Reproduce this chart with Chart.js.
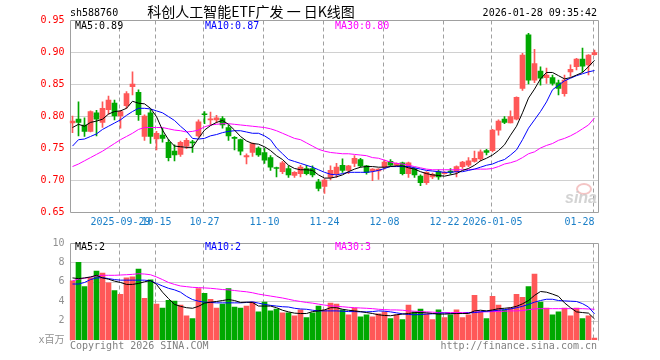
<!DOCTYPE html>
<html>
<head>
<meta charset="utf-8">
<script src="https://cdn.jsdelivr.net/npm/chart.js@4.4.1/dist/chart.umd.min.js"></script>
<style>
  html, body { margin: 0; padding: 0; background: #fff; }
  #wrap { position: relative; width: 660px; height: 360px; overflow: hidden; }
  #kline { position: absolute; left: 0; top: 0; }
  #vol { position: absolute; left: 0; top: 232px; }
</style>
</head>
<body>
<div id="wrap">
  <canvas id="kline" width="660" height="232"></canvas>
  <canvas id="vol" width="660" height="128"></canvas>
</div>
<script>
// trading days shown on the chart
const categories = [
  '2025-09-17','2025-09-18','2025-09-19','2025-09-22','2025-09-23','2025-09-24','2025-09-25','2025-09-26','2025-09-29','2025-09-30',
  '2025-10-09','2025-10-10','2025-10-13','2025-10-14','2025-10-15','2025-10-16','2025-10-17','2025-10-20','2025-10-21','2025-10-22',
  '2025-10-23','2025-10-24','2025-10-27','2025-10-28','2025-10-29','2025-10-30','2025-10-31','2025-11-03','2025-11-04','2025-11-05',
  '2025-11-06','2025-11-07','2025-11-10','2025-11-11','2025-11-12','2025-11-13','2025-11-14','2025-11-17','2025-11-18','2025-11-19',
  '2025-11-20','2025-11-21','2025-11-24','2025-11-25','2025-11-26','2025-11-27','2025-11-28','2025-12-01','2025-12-02','2025-12-03',
  '2025-12-04','2025-12-05','2025-12-08','2025-12-09','2025-12-10','2025-12-11','2025-12-12','2025-12-15','2025-12-16','2025-12-17',
  '2025-12-18','2025-12-19','2025-12-22','2025-12-23','2025-12-24','2025-12-25','2025-12-26','2025-12-29','2025-12-30','2025-12-31',
  '2026-01-05','2026-01-06','2026-01-07','2026-01-08','2026-01-09','2026-01-12','2026-01-13','2026-01-14','2026-01-15','2026-01-16',
  '2026-01-19','2026-01-20','2026-01-21','2026-01-22','2026-01-23','2026-01-26','2026-01-27','2026-01-28'
];
const tickDates  = ['2025-09-29','2025-10-15','2025-10-27','2025-11-10','2025-11-24','2025-12-08','2025-12-22','2026-01-05','2026-01-28'];
const tickLabels = ['2025-09-29','10-15','10-27','11-10','11-24','12-08','12-22','2026-01-05','01-28'];

const open = [
  0.789,0.795,0.786,0.776,0.805,0.790,0.810,0.820,0.800,0.816,
  0.846,0.837,0.768,0.805,0.764,0.770,0.759,0.745,0.740,0.753,
  0.759,0.769,0.803,0.794,0.794,0.796,0.782,0.766,0.763,0.736,
  0.743,0.750,0.743,0.735,0.719,0.713,0.718,0.707,0.710,0.718,
  0.718,0.697,0.690,0.704,0.710,0.723,0.715,0.726,0.732,0.722,
  0.714,0.714,0.720,0.729,0.723,0.727,0.710,0.718,0.706,0.696,
  0.705,0.713,0.710,0.714,0.713,0.721,0.723,0.729,0.733,0.746,
  0.746,0.778,0.795,0.789,0.795,0.843,0.927,0.856,0.870,0.860,
  0.860,0.852,0.835,0.869,0.877,0.889,0.880,0.896
];
const high = [
  0.800,0.822,0.797,0.808,0.809,0.822,0.831,0.825,0.809,0.838,
  0.869,0.841,0.802,0.810,0.776,0.781,0.763,0.755,0.761,0.765,
  0.762,0.794,0.807,0.806,0.801,0.799,0.786,0.768,0.764,0.741,
  0.758,0.752,0.750,0.738,0.720,0.729,0.722,0.713,0.723,0.723,
  0.722,0.701,0.702,0.722,0.726,0.733,0.723,0.738,0.734,0.723,
  0.718,0.718,0.731,0.732,0.727,0.728,0.728,0.719,0.708,0.713,
  0.711,0.716,0.713,0.718,0.722,0.729,0.735,0.745,0.747,0.748,
  0.779,0.794,0.799,0.808,0.830,0.898,0.929,0.904,0.877,0.875,
  0.864,0.856,0.864,0.880,0.890,0.906,0.896,0.903
];
const low = [
  0.774,0.769,0.768,0.775,0.769,0.782,0.803,0.794,0.781,0.812,
  0.833,0.793,0.762,0.757,0.747,0.759,0.730,0.730,0.737,0.749,
  0.743,0.767,0.788,0.786,0.789,0.781,0.762,0.747,0.739,0.725,
  0.737,0.737,0.726,0.715,0.705,0.710,0.704,0.704,0.705,0.708,
  0.705,0.683,0.679,0.700,0.704,0.712,0.710,0.721,0.720,0.709,
  0.699,0.701,0.717,0.722,0.722,0.708,0.704,0.704,0.691,0.693,
  0.702,0.701,0.709,0.709,0.705,0.718,0.721,0.728,0.730,0.739,
  0.744,0.770,0.788,0.789,0.794,0.840,0.850,0.852,0.848,0.851,
  0.848,0.833,0.831,0.862,0.872,0.869,0.864,0.895
];
const close = [
  0.792,0.790,0.776,0.807,0.795,0.812,0.825,0.800,0.807,0.835,
  0.850,0.802,0.800,0.768,0.773,0.765,0.735,0.739,0.759,0.762,
  0.758,0.791,0.802,0.795,0.797,0.786,0.769,0.765,0.745,0.738,
  0.757,0.739,0.731,0.720,0.718,0.727,0.708,0.712,0.720,0.710,
  0.708,0.687,0.700,0.715,0.720,0.715,0.722,0.734,0.722,0.712,
  0.717,0.717,0.728,0.723,0.726,0.710,0.727,0.708,0.696,0.712,
  0.709,0.705,0.712,0.712,0.721,0.728,0.730,0.734,0.744,0.743,
  0.778,0.792,0.790,0.799,0.829,0.895,0.856,0.882,0.859,0.864,
  0.851,0.843,0.856,0.873,0.889,0.878,0.895,0.899
];
const ma5 = [
  0.782,0.787,0.784,0.790,0.792,0.795,0.803,0.807,0.808,0.812,
  0.823,0.820,0.819,0.812,0.799,0.778,0.763,0.753,0.752,0.751,
  0.751,0.765,0.778,0.785,0.790,0.793,0.787,0.778,0.768,0.761,
  0.757,0.756,0.752,0.746,0.738,0.732,0.723,0.718,0.716,0.716,
  0.715,0.708,0.703,0.703,0.705,0.708,0.713,0.717,0.720,0.721,
  0.721,0.720,0.720,0.721,0.722,0.722,0.719,0.717,0.713,0.710,
  0.708,0.707,0.706,0.708,0.710,0.715,0.718,0.723,0.730,0.734,
  0.739,0.746,0.755,0.770,0.784,0.805,0.828,0.842,0.858,0.868,
  0.868,0.863,0.858,0.860,0.864,0.868,0.877,0.887
];
const ma10 = [
  0.753,0.763,0.764,0.768,0.772,0.779,0.784,0.789,0.794,0.801,
  0.807,0.812,0.812,0.811,0.808,0.805,0.799,0.793,0.784,0.776,
  0.765,0.764,0.765,0.769,0.771,0.774,0.776,0.777,0.777,0.775,
  0.773,0.773,0.769,0.763,0.750,0.741,0.732,0.729,0.726,0.723,
  0.720,0.716,0.712,0.709,0.708,0.710,0.712,0.712,0.712,0.712,
  0.713,0.715,0.718,0.721,0.721,0.721,0.721,0.719,0.717,0.715,
  0.714,0.713,0.712,0.712,0.713,0.713,0.715,0.717,0.720,0.723,
  0.725,0.729,0.732,0.739,0.747,0.763,0.781,0.794,0.807,0.822,
  0.841,0.848,0.855,0.859,0.863,0.866,0.869,0.871
];
const ma30 = [
  0.721,0.725,0.730,0.735,0.740,0.745,0.751,0.757,0.763,0.768,
  0.773,0.779,0.782,0.782,0.782,0.782,0.780,0.778,0.777,0.775,
  0.776,0.778,0.783,0.786,0.787,0.788,0.788,0.787,0.786,0.785,
  0.784,0.783,0.782,0.780,0.777,0.773,0.769,0.765,0.763,0.758,
  0.753,0.748,0.745,0.743,0.742,0.741,0.741,0.740,0.739,0.738,
  0.735,0.734,0.731,0.728,0.726,0.725,0.723,0.721,0.719,0.717,
  0.716,0.716,0.716,0.716,0.716,0.716,0.716,0.717,0.717,0.717,
  0.718,0.721,0.725,0.727,0.730,0.735,0.741,0.744,0.750,0.754,
  0.757,0.762,0.765,0.769,0.774,0.780,0.786,0.797
];

// volume, millions
const volume = [
  6.1,8.0,5.5,6.4,7.1,6.9,5.9,5.1,4.7,6.4,
  6.5,7.3,4.3,6.2,3.7,3.3,4.1,4.0,3.6,2.5,
  2.2,5.3,4.8,4.2,3.3,3.7,5.3,3.4,3.3,3.5,
  3.9,2.9,3.9,3.0,3.2,2.8,2.8,2.5,3.1,2.3,
  2.8,3.5,3.1,3.8,3.7,3.1,2.6,3.3,2.4,2.6,
  2.4,2.7,2.9,2.2,2.6,2.1,3.6,2.9,3.2,2.7,
  2.1,3.1,2.3,2.6,3.1,2.3,2.6,4.6,2.9,2.2,
  4.5,3.6,3.1,3.3,4.7,4.4,5.5,6.8,3.9,3.3,
  2.6,2.9,3.3,2.5,3.3,2.2,2.5,0.2
];
const volMa5 = [
  6.40,6.33,6.40,6.50,6.67,6.40,6.27,6.07,5.93,5.73,
  5.73,5.83,6.00,6.13,5.73,4.93,4.27,3.67,3.47,3.33,
  3.27,3.47,3.80,3.90,3.97,4.07,4.17,4.07,3.87,3.90,
  3.87,3.50,3.50,3.50,3.33,3.07,2.90,2.77,2.73,2.73,
  2.93,3.00,3.10,3.33,3.33,3.17,3.07,3.00,2.93,2.83,
  2.73,2.60,2.53,2.50,2.60,2.67,2.73,2.83,2.83,2.80,
  2.73,2.67,2.67,2.70,2.73,2.73,2.73,3.00,3.07,3.00,
  3.10,3.23,3.27,3.33,3.47,3.73,4.07,4.60,5.00,4.93,
  4.73,4.50,3.83,3.33,2.90,2.83,2.77,2.17
];
const volMa10 = [
  5.77,5.77,5.93,6.23,6.40,6.43,6.33,6.23,6.17,6.17,
  6.17,6.17,6.17,6.10,5.83,5.57,5.33,5.17,4.93,4.50,
  4.17,4.00,3.90,3.87,3.83,3.83,3.83,3.83,3.83,3.87,
  3.93,3.80,3.67,3.57,3.50,3.43,3.40,3.27,3.20,3.17,
  3.07,3.00,3.00,3.00,3.00,2.97,2.93,2.93,2.90,2.90,
  2.93,3.00,2.97,2.90,2.80,2.70,2.63,2.60,2.63,2.67,
  2.70,2.77,2.77,2.73,2.73,2.73,2.80,2.83,2.90,2.97,
  3.00,3.07,3.13,3.20,3.33,3.47,3.67,3.90,4.07,4.20,
  4.20,4.07,4.03,4.00,3.97,3.75,3.40,2.70
];
const volMa30 = [
  6.10,6.27,6.37,6.47,6.60,6.67,6.67,6.67,6.70,6.73,
  6.77,6.83,6.80,6.73,6.50,6.23,5.93,5.73,5.57,5.50,
  5.43,5.40,5.37,5.33,5.27,5.20,5.17,5.10,5.03,4.97,
  4.87,4.73,4.63,4.53,4.43,4.33,4.20,4.07,3.97,3.87,
  3.80,3.70,3.60,3.53,3.47,3.43,3.37,3.33,3.30,3.27,
  3.23,3.17,3.13,3.10,3.10,3.07,3.00,2.97,2.93,2.90,
  2.87,2.83,2.83,2.83,2.83,2.83,2.83,2.87,2.90,2.90,
  2.93,2.93,2.97,3.00,3.00,3.03,3.13,3.20,3.23,3.23,
  3.23,3.23,3.23,3.23,3.23,3.23,3.20,3.17
];

const UP = '#ff5858';
const DOWN = '#00a800';
const GRID = '#a0a0a0';
const MONO = "'DejaVu Sans Mono', 'Noto Sans CJK SC', monospace";
Chart.defaults.font.family = MONO;
Chart.defaults.font.size = 10;

const candleColors = close.map((c, i) => c >= open[i] ? UP : DOWN);
const last = arr => arr[arr.length - 1];

function xScale(showLabels) {
  return {
    type: 'category',
    offset: true,
    afterFit: s => { s.height = showLabels ? 20 : 0; },
    grid: { display: false, drawTicks: false },
    border: { display: false },
    ticks: {
      display: showLabels,
      autoSkip: false,
      maxRotation: 0,
      minRotation: 0,
      padding: 4,
      color: '#1a7fc8',
      callback: (v, i) => {
        const k = tickDates.indexOf(categories[i]);
        if (k < 0) return '';
        // last label sits flush against the right edge
        return k === tickLabels.length - 1 ? tickLabels[k] + '     ' : tickLabels[k];
      }
    }
  };
}

function yScale(min, max, step, labelColor, fmt) {
  return {
    min: min,
    max: max,
    afterFit: s => { s.width = 69.5; },
    grid: { display: false, drawTicks: false },
    border: { display: false },
    ticks: { stepSize: step, padding: 5, color: labelColor, callback: fmt }
  };
}

// dotted value lines, dashed date lines and the grey frame
const guides = {
  id: 'guides',
  beforeDatasetsDraw(chart, args, opts) {
    const { ctx, chartArea: a, scales } = chart;
    const l = Math.round(a.left) + 0.5, r = Math.round(a.right) + 0.5;
    const t = Math.round(a.top) + 0.5, b = Math.round(a.bottom) + 0.5;
    const seg = (x1, y1, x2, y2) => { ctx.beginPath(); ctx.moveTo(x1, y1); ctx.lineTo(x2, y2); ctx.stroke(); };
    ctx.save();
    ctx.strokeStyle = GRID;
    ctx.lineWidth = 1;

    ctx.setLineDash([1, 1]);
    scales.y.ticks.forEach(tk => {
      const py = Math.round(scales.y.getPixelForValue(tk.value)) + 0.5;
      if (py > t + 1 && py < b - 1) seg(l, py, r, py);
    });

    ctx.setLineDash([4, 3]);
    tickDates.forEach(d => {
      const px = Math.round(scales.x.getPixelForValue(categories.indexOf(d))) - 1.5;
      seg(px, t, px, b);
    });

    ctx.setLineDash([]);
    ctx.beginPath();
    ctx.moveTo(l, b); ctx.lineTo(l, t); ctx.lineTo(r, t); ctx.lineTo(r, b);
    if (opts.bottom) ctx.lineTo(l, b);
    ctx.stroke();
    ctx.restore();
  }
};

const klineText = {
  id: 'klineText',
  afterDraw(chart) {
    const ctx = chart.ctx;
    ctx.save();
    ctx.textBaseline = 'middle';
    ctx.font = '10px ' + MONO;
    ctx.fillStyle = '#000';
    ctx.textAlign = 'left';
    ctx.fillText('sh588760', 70, 13);
    ctx.textAlign = 'right';
    ctx.fillText('2026-01-28 09:35:42', 597, 13);
    ctx.textAlign = 'center';
    ctx.font = "14px 'Noto Sans CJK SC', sans-serif";
    ctx.fillText('科创人工智能ETF广发 一 日K线图', 251, 12);

    ctx.font = '10px ' + MONO;
    ctx.textAlign = 'left';
    ctx.fillStyle = '#000';
    ctx.fillText('MA5:' + last(ma5).toFixed(2), 75, 26);
    ctx.fillStyle = '#0000ff';
    ctx.fillText('MA10:' + last(ma10).toFixed(2), 205, 26);
    ctx.fillStyle = '#ff00ff';
    ctx.fillText('MA30:' + last(ma30).toFixed(2), 335, 26);

    // sina watermark
    ctx.strokeStyle = 'rgba(235,150,150,0.55)';
    ctx.lineWidth = 2;
    ctx.beginPath();
    ctx.ellipse(584, 189, 7, 5, 0, 0, Math.PI * 2);
    ctx.stroke();
    ctx.fillStyle = 'rgba(200,200,200,0.8)';
    ctx.font = "italic bold 16px 'Liberation Sans', sans-serif";
    ctx.textAlign = 'center';
    ctx.fillText('sina', 581, 199);
    ctx.restore();
  }
};

const volText = {
  id: 'volText',
  afterDraw(chart) {
    const ctx = chart.ctx;
    ctx.save();
    ctx.textBaseline = 'middle';
    ctx.font = '10px ' + MONO;
    ctx.textAlign = 'left';
    ctx.fillStyle = '#000';
    ctx.fillText('MA5:' + Math.floor(last(volMa5)), 75, 15);
    ctx.fillStyle = '#0000ff';
    ctx.fillText('MA10:' + Math.floor(last(volMa10)), 205, 15);
    ctx.fillStyle = '#ff00ff';
    ctx.fillText('MA30:' + Math.floor(last(volMa30)), 335, 15);
    ctx.fillStyle = '#808080';
    ctx.fillText('Copyright 2026 SINA.COM', 70, 114);
    ctx.textAlign = 'right';
    ctx.fillText('http://finance.sina.com.cn', 597, 114);
    ctx.restore();
  }
};

function maLine(data, color) {
  return {
    type: 'line',
    data: data,
    borderColor: color,
    borderWidth: 1,
    pointRadius: 0,
    tension: 0,
    fill: false,
    order: 1
  };
}

new Chart(document.getElementById('kline'), {
  type: 'bar',
  data: {
    labels: categories,
    datasets: [
      maLine(ma5, '#000000'),
      maLine(ma10, '#0000ff'),
      maLine(ma30, '#ff00ff'),
      {
        data: open.map((o, i) => [o, close[i]]),
        backgroundColor: candleColors,
        barThickness: 5,
        minBarLength: 1,
        grouped: false,
        order: 2
      },
      {
        data: low.map((l, i) => [l, high[i]]),
        backgroundColor: candleColors,
        barThickness: 1,
        grouped: false,
        order: 3
      }
    ]
  },
  options: {
    responsive: false,
    animation: false,
    devicePixelRatio: 1,
    layout: { padding: { top: 20, right: 62.5, bottom: 0, left: 0 } },
    plugins: { legend: { display: false }, tooltip: { enabled: false }, guides: { bottom: true } },
    scales: {
      x: xScale(true),
      y: yScale(0.65, 0.95, 0.05, '#ff0000', v => v.toFixed(2))
    }
  },
  plugins: [guides, klineText]
});

new Chart(document.getElementById('vol'), {
  type: 'bar',
  data: {
    labels: categories,
    datasets: [
      maLine(volMa5, '#000000'),
      maLine(volMa10, '#0000ff'),
      maLine(volMa30, '#ff00ff'),
      {
        data: volume,
        backgroundColor: candleColors,
        barThickness: 5,
        order: 2
      }
    ]
  },
  options: {
    responsive: false,
    animation: false,
    devicePixelRatio: 1,
    layout: { padding: { top: 8, right: 62.5, bottom: 20, left: 0 } },
    plugins: { legend: { display: false }, tooltip: { enabled: false }, guides: { bottom: false } },
    scales: {
      x: xScale(false),
      y: yScale(0, 10, 2, '#909090', v => v === 0 ? 'x百万' : String(v))
    }
  },
  plugins: [guides, volText]
});
</script>
</body>
</html>
